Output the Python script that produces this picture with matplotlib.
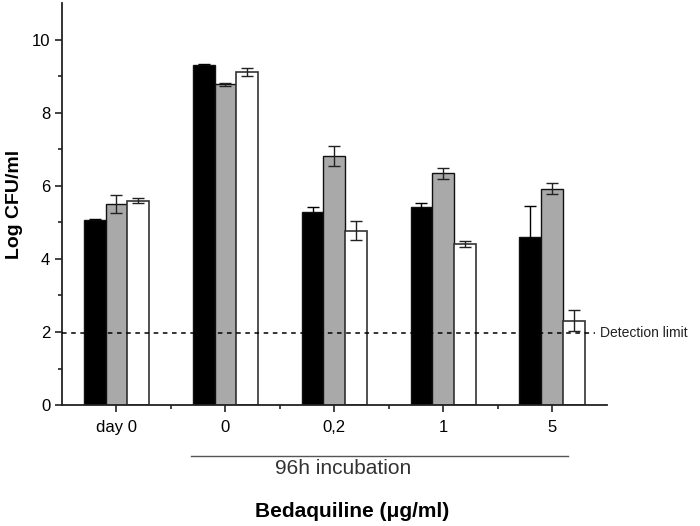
import matplotlib
matplotlib.use("Agg")
import matplotlib.pyplot as plt
import numpy as np

plt.rcParams['font.family'] = ['Liberation Sans', 'DejaVu Sans']

categories = ["day 0", "0", "0,2", "1", "5"]
black_vals = [5.07, 9.31, 5.28, 5.42, 4.59]
black_err = [0.03, 0.04, 0.13, 0.10, 0.86]
gray_vals = [5.50, 8.78, 6.82, 6.34, 5.92]
gray_err = [0.25, 0.05, 0.28, 0.15, 0.15]
white_vals = [5.60, 9.13, 4.77, 4.40, 2.31]
white_err = [0.08, 0.11, 0.26, 0.08, 0.29]
detection_limit = 1.97

fig = plt.figure(figsize=(7.0, 5.26), dpi=100)
ax = fig.add_axes([0.0886, 0.230, 0.778, 0.7637])

x = np.arange(1, len(categories) + 1)
w = 0.2
ekw = dict(elinewidth=1.0, capthick=1.0)
ax.bar(x - w, black_vals, w, color='black', edgecolor='#111111', linewidth=1.0,
       yerr=black_err, capsize=4, error_kw=dict(ecolor='black', **ekw), zorder=2)
ax.bar(x, gray_vals, w, color='#a9a9a9', edgecolor='#111111', linewidth=1.0,
       yerr=gray_err, capsize=4, error_kw=dict(ecolor='#222222', **ekw), zorder=2)
ax.bar(x + w, white_vals, w, color='white', edgecolor='#333333', linewidth=1.2,
       yerr=white_err, capsize=4, error_kw=dict(ecolor='#222222', **ekw), zorder=2)

ax.plot([0.5, 5.39], [detection_limit, detection_limit], linestyle=(0, (3, 3)),
        color='black', linewidth=1.1, zorder=3, clip_on=False)
ax.text(5.44, detection_limit, "Detection limit", fontsize=10, va='center', ha='left',
        color='#222222', clip_on=False)

ax.set_xlim(0.5, 5.5)
ax.set_ylim(0, 11)
ax.set_xticks(x)
ax.set_xticklabels(categories, fontsize=12)
ax.set_xticks(np.arange(1.5, 5.5, 1.0), minor=True)
ax.set_yticks([0, 2, 4, 6, 8, 10])
ax.set_yticks([1, 3, 5, 7, 9], minor=True)
ax.tick_params(axis='both', which='major', labelsize=12, length=5, width=1.2, direction='out', colors='#222222')
ax.tick_params(axis='both', which='minor', length=3, width=1.2, direction='out', colors='#222222')
ax.tick_params(axis='x', pad=6)
for lab in ax.get_xticklabels() + ax.get_yticklabels():
    lab.set_color('black')
ax.spines['top'].set_visible(False)
ax.spines['right'].set_visible(False)
for s in ['left', 'bottom']:
    ax.spines[s].set_linewidth(1.3)
    ax.spines[s].set_color('#222222')

ax.set_ylabel("Log CFU/ml", fontsize=14, fontweight='bold', labelpad=6)

# 96h incubation bracket
fig.add_artist(plt.Line2D([191/700, 568/700], [1 - 455.5/526, 1 - 455.5/526],
                          color='#555555', linewidth=1.0))
fig.text(343/700, 1 - 469/526, "96h incubation", fontsize=15, color='#333333',
         ha='center', va='center')
fig.text(352/700, 1 - 511.5/526, "Bedaquiline (\u03bcg/ml)", fontsize=15,
         fontweight='bold', ha='center', va='center')

fig.savefig("out.png", dpi=100)
